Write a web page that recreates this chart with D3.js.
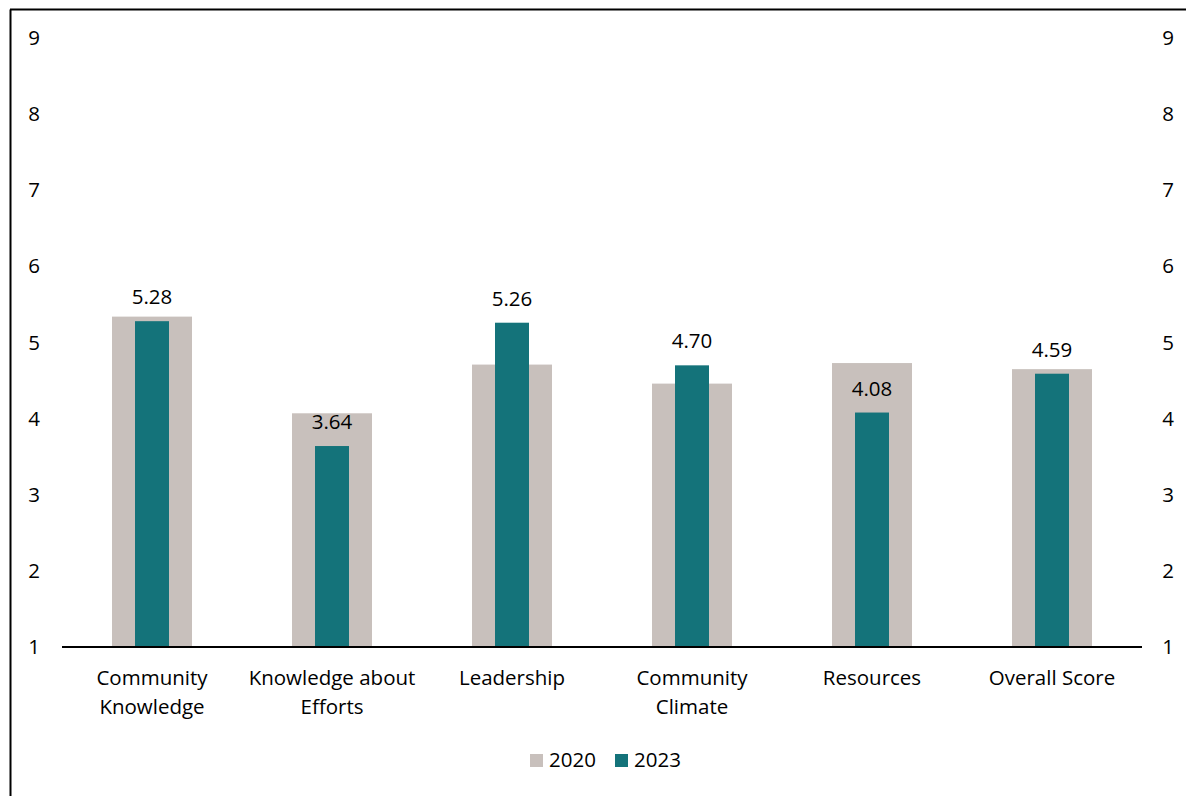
<!DOCTYPE html>
<meta charset="utf-8">
<script src="https://d3js.org/d3.v7.min.js"></script>
<style>
  body { margin: 0; background: #fff; }
  text { font-family: "Open Sans", sans-serif; fill: #000; }
</style>
<div id="chart"></div>
<script>
var width = 1186, height = 796
var fs = "20.5px"

// data
var categories = [["Community", "Knowledge"], ["Knowledge about", "Efforts"], ["Leadership"],
                  ["Community", "Climate"], ["Resources"], ["Overall Score"]]
var values2020 = [5.34, 4.07, 4.71, 4.46, 4.73, 4.65]
var values2023 = [5.28, 3.64, 5.26, 4.70, 4.08, 4.59]
var yTicks = [1, 2, 3, 4, 5, 6, 7, 8, 9]
var seriesNames = ["2020", "2023"]
var colors = ["#c8c0bc", "#14737a"]

var svg = d3.select("#chart").append("svg")
    .attr("width", width)
    .attr("height", height)

// frame lines
svg.append("line").attr("x1", 10.5).attr("x2", 10.5).attr("y1", 9.5).attr("y2", height)
  .style("stroke", "#000").style("stroke-width", 2)
svg.append("line").attr("x1", 10).attr("x2", width).attr("y1", 9.5).attr("y2", 9.5)
  .style("stroke", "#000").style("stroke-width", 2)

var x = d3.scaleBand()
    .domain(d3.range(categories.length))
    .range([62, 1142])

var y = d3.scaleLinear()
    .domain([1, 9])
    .range([647, 38])

var wide = 80, narrow = 34

// 2020 bars
svg.append("g").selectAll("rect")
  .data(values2020)
  .enter().append("rect")
    .attr("x", function(d, i) { return x(i) + x.bandwidth() / 2 - wide / 2 })
    .attr("width", wide)
    .attr("y", function(d) { return y(d) })
    .attr("height", function(d) { return y(1) - y(d) })
    .style("fill", colors[0])

// 2023 bars
svg.append("g").selectAll("rect")
  .data(values2023)
  .enter().append("rect")
    .attr("x", function(d, i) { return x(i) + x.bandwidth() / 2 - narrow / 2 })
    .attr("width", narrow)
    .attr("y", function(d) { return y(d) })
    .attr("height", function(d) { return y(1) - y(d) })
    .style("fill", colors[1])

// value labels
svg.append("g").selectAll("text")
  .data(values2023)
  .enter().append("text")
    .attr("x", function(d, i) { return x(i) + x.bandwidth() / 2 })
    .attr("y", function(d) { return y(d) - 17 })
    .attr("text-anchor", "middle")
    .style("font-size", fs)
    .text(function(d) { return d.toFixed(2) })

// baseline
svg.append("line")
    .attr("x1", x.range()[0]).attr("x2", x.range()[1])
    .attr("y1", y(1)).attr("y2", y(1))
    .style("stroke", "#000").style("stroke-width", 2)

// y tick labels, both sides
svg.append("g").selectAll("text")
  .data(yTicks)
  .enter().append("text")
    .attr("x", 34).attr("y", function(d) { return y(d) + 7 })
    .attr("text-anchor", "middle")
    .style("font-size", fs)
    .text(function(d) { return d })
svg.append("g").selectAll("text")
  .data(yTicks)
  .enter().append("text")
    .attr("x", 1168).attr("y", function(d) { return y(d) + 7 })
    .attr("text-anchor", "middle")
    .style("font-size", fs)
    .text(function(d) { return d })

// category labels
var cat = svg.append("g").selectAll("text")
  .data(categories)
  .enter().append("text")
    .attr("x", function(d, i) { return x(i) + x.bandwidth() / 2 })
    .attr("y", 685)
    .attr("text-anchor", "middle")
    .style("font-size", fs)
cat.selectAll("tspan")
  .data(function(d) { return d })
  .enter().append("tspan")
    .attr("x", function() { return d3.select(this.parentNode).attr("x") })
    .attr("dy", function(d, i) { return i ? 29 : 0 })
    .text(function(d) { return d })

// legend
var legend = svg.append("g").selectAll("g")
  .data(seriesNames)
  .enter().append("g")
    .attr("transform", function(d, i) { return "translate(" + (530 + i * 85) + ",754)" })
legend.append("rect").attr("width", 13).attr("height", 13)
  .style("fill", function(d, i) { return colors[i] })
legend.append("text").attr("x", 19).attr("y", 13)
  .style("font-size", fs)
  .text(function(d) { return d })
</script>
